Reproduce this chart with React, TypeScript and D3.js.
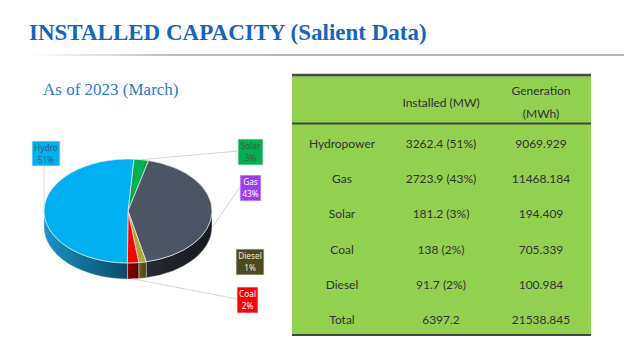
import React from "react";
import * as d3 from "d3";

// pie data, clockwise from 12 o'clock
const sources = ["Solar", "Gas", "Diesel", "Coal", "Hydro"];
const installedMW = [181.2, 2723.9, 91.7, 138, 3262.4];
const pieLabels = ["3%", "43%", "1%", "2%", "51%"];
const topColors = ["#00b050", "#4b5563", "#b3a435", "#ff0000", "#00b0f0"];
const sideColors = [
  ["#007a38", "#005a28"],
  ["#262b32", "#16191d"],
  ["#6e6322", "#4a4216"],
  ["#8a0000", "#5c0000"],
  ["#1c93c6", "#0a4a68"],
];
const labelFills = ["#00b050", "#9b3cf5", "#4f4a1e", "#ff0000", "#00b0f0"];
const labelText = ["#3d5a45", "#ffffff", "#eeeed8", "#ffffff", "#2f5f80"];

// table data
const tableRows = ["Hydropower", "Gas", "Solar", "Coal", "Diesel", "Total"];
const tableInstalled = [3262.4, 2723.9, 181.2, 138, 91.7, 6397.2];
const tableShare = ["51%", "43%", "3%", "2%", "2%", ""];
const tableGeneration = [9069.929, 11468.184, 194.409, 705.339, 100.984, 21538.845];

// label box layout (same order as sources)
const labelBoxes = [
  { x: 238, y: 139, w: 25, h: 26, attach: "left" },
  { x: 240, y: 175, w: 21, h: 26, attach: "left" },
  { x: 236, y: 249, w: 28, h: 26, attach: "none" },
  { x: 237, y: 287, w: 21, h: 26, attach: "left" },
  { x: 32, y: 141, w: 28, h: 25, attach: "bottom" },
];

const W = 624;
const H = 351;

export default function App() {
  const cx = 128;
  const cy = 211;
  const rx = 84;
  const ry = 52;
  const depth = 16;
  const offset = (4 * Math.PI) / 180;

  const arcs = d3
    .pie<number>()
    .sort(null)
    .startAngle(offset)
    .endAngle(offset + 2 * Math.PI)(installedMW);

  const pt = (a: number, dy = 0): [number, number] => [
    cx + rx * Math.sin(a),
    cy - ry * Math.cos(a) + dy,
  ];

  const topPath = (s: number, e: number) => {
    const [x0, y0] = pt(s);
    const [x1, y1] = pt(e);
    const large = e - s > Math.PI ? 1 : 0;
    return `M${cx},${cy}L${x0},${y0}A${rx},${ry} 0 ${large} 1 ${x1},${y1}Z`;
  };

  const sidePath = (s: number, e: number) => {
    const a = Math.max(s, Math.PI / 2);
    const b = Math.min(e, (3 * Math.PI) / 2);
    if (b <= a) return null;
    const [x0, y0] = pt(a);
    const [x1, y1] = pt(b);
    return `M${x0},${y0}A${rx},${ry} 0 0 1 ${x1},${y1}L${x1},${y1 + depth}A${rx},${ry} 0 0 0 ${x0},${y0 + depth}Z`;
  };

  // table columns
  const tX = 292;
  const tW = 299;
  const colX = [342, 441, 541];
  const rowY = d3.scalePoint<string>().domain(tableRows).range([144, 320]);
  const fmtGen = d3.format(".3f");
  const tableFont = "Lato, 'Liberation Sans', Arial, sans-serif";

  return (
    <svg
      width={W}
      height={H}
      style={{ position: "absolute", left: 0, top: 0, background: "#fff" }}
    >
      <defs>
        <linearGradient id="rule" x1="0" x2="1" y1="0" y2="0">
          <stop offset="0" stopColor="#b4bcbc" stopOpacity="0" />
          <stop offset="0.25" stopColor="#b4bcbc" stopOpacity="1" />
          <stop offset="1" stopColor="#aab4b4" stopOpacity="1" />
        </linearGradient>
        {sideColors.map((c, i) => (
          <linearGradient key={i} id={`side${i}`} x1="0" x2="1" y1="0" y2="0">
            <stop offset="0" stopColor={c[0]} />
            <stop offset="1" stopColor={c[1]} />
          </linearGradient>
        ))}
      </defs>

      {/* title */}
      <text
        x={29}
        y={40}
        fontFamily="'Liberation Serif', 'Times New Roman', serif"
        fontWeight="bold"
        fontSize={23}
        fill="#1565b8"
      >
        INSTALLED CAPACITY (Salient Data)
      </text>
      <rect x={30} y={54} width={W - 30} height={2} fill="url(#rule)" />

      <text
        x={43}
        y={95}
        fontFamily="'Liberation Serif', 'Times New Roman', serif"
        fontSize={17}
        fill="#2b7bd0"
      >
        As of 2023 (March)
      </text>

      {/* 3D pie: sides first, then top faces */}
      <g>
        {arcs.map((d, i) => {
          const p = sidePath(d.startAngle, d.endAngle);
          return p ? (
            <path key={`s${i}`} d={p} fill={`url(#side${i})`} stroke="#e4e8ec" strokeWidth={0.4} />
          ) : null;
        })}
        {arcs.map((d, i) => (
          <path
            key={`t${i}`}
            d={topPath(d.startAngle, d.endAngle)}
            fill={topColors[i]}
            stroke="#e8eef4"
            strokeWidth={0.7}
            strokeLinejoin="round"
          />
        ))}
      </g>

      {/* leader lines */}
      {arcs.map((d, i) => {
        const box = labelBoxes[i];
        if (box.attach === "none") return null;
        const mid = (d.startAngle + d.endAngle) / 2;
        const front = Math.cos(mid) < 0;
        const [ax, ay] = pt(mid, front ? depth : 0);
        const bx = box.attach === "left" ? box.x : ax;
        const by = box.attach === "left" ? box.y + box.h / 2 - 1 : box.y + box.h;
        return (
          <line key={`l${i}`} x1={ax} y1={ay} x2={bx} y2={by} stroke="#d4d6de" strokeWidth={1} />
        );
      })}

      {/* data labels */}
      {sources.map((s, i) => {
        const box = labelBoxes[i];
        return (
          <g key={`b${i}`} fontFamily="'Noto Sans', 'Open Sans', sans-serif" fontSize={8.3}>
            <rect
              x={box.x}
              y={box.y}
              width={box.w}
              height={box.h}
              fill={labelFills[i]}
              stroke="#e6e6e6"
              strokeWidth={0.8}
            />
            <text x={box.x + box.w / 2} y={box.y + 10} textAnchor="middle" fill={labelText[i]}>
              {s}
            </text>
            <text x={box.x + box.w / 2} y={box.y + 21.5} textAnchor="middle" fill={labelText[i]}>
              {pieLabels[i]}
            </text>
          </g>
        );
      })}

      {/* table */}
      <rect x={tX} y={75} width={tW} height={260} fill="#92d050" />
      <line x1={tX} x2={tX + tW} y1={75} y2={75} stroke="#474752" strokeWidth={2.5} />
      <line x1={tX} x2={tX + tW} y1={123.5} y2={123.5} stroke="#3f4a3a" strokeWidth={2} />
      <line x1={tX} x2={tX + tW} y1={335} y2={335} stroke="#3f4a3a" strokeWidth={2} />

      <g fontFamily={tableFont} fontSize={12} fill="#333333" textAnchor="middle">
        <text x={colX[1]} y={107}>Installed (MW)</text>
        <text x={colX[2]} y={95}>Generation</text>
        <text x={colX[2]} y={118}>(MWh)</text>
        {tableRows.map((r, i) => {
          const y = (rowY(r) ?? 0) + 4;
          return (
            <g key={r}>
              <text x={colX[0]} y={y}>{r}</text>
              <text x={colX[1]} y={y}>
                {tableShare[i]
                  ? `${tableInstalled[i]} (${tableShare[i]})`
                  : `${tableInstalled[i]}`}
              </text>
              <text x={colX[2]} y={y}>{fmtGen(tableGeneration[i])}</text>
            </g>
          );
        })}
      </g>
    </svg>
  );
}
